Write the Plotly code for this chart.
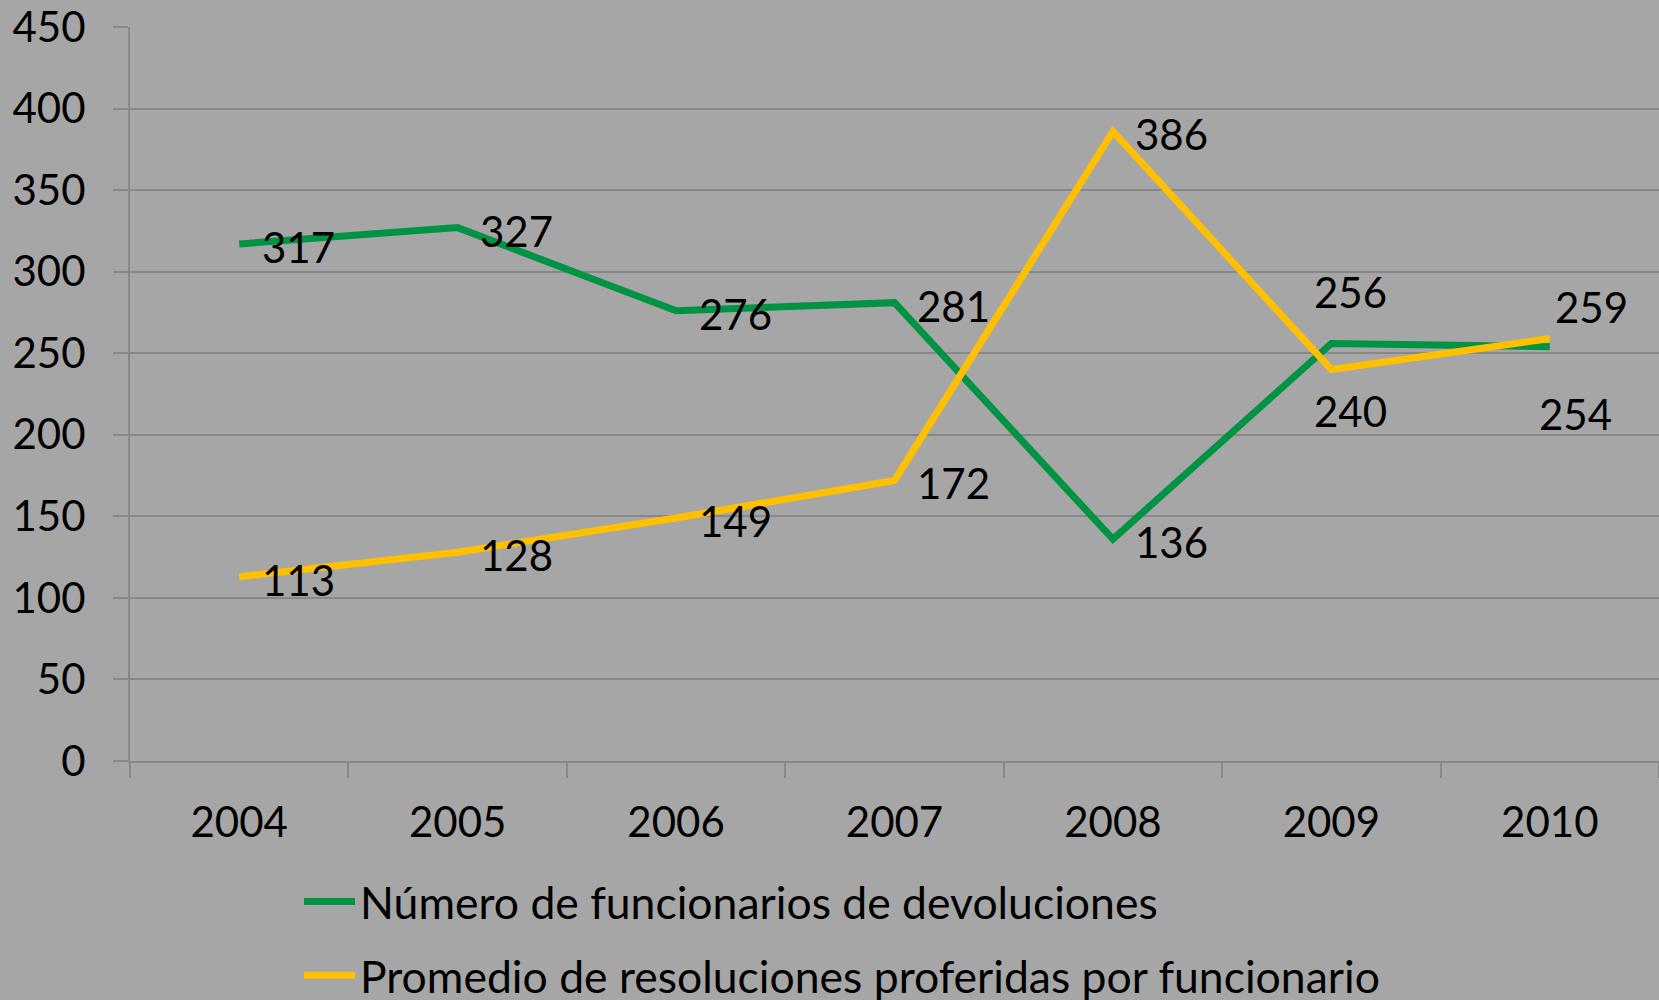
import plotly.graph_objects as go

# Annual figures
years = ["2004", "2005", "2006", "2007", "2008", "2009", "2010"]
funcionarios = [317, 327, 276, 281, 136, 256, 254]
promedio = [113, 128, 149, 172, 386, 240, 259]

series_names = [
    "Número de funcionarios de devoluciones",
    "Promedio de resoluciones proferidas por funcionario",
]
series_colors = ["#009343", "#FFC000"]

# Pixel offsets (dx right, dy down) for each data label, per series
right = (59, 3)
label_offsets = [
    [right, right, right, right, right, (19, -51), (26, 67)],
    [right, right, right, right, right, (19, 41), (42, -32)],
]

FONT = "Lato, Carlito, 'Open Sans', sans-serif"
FS = 42
GRID = "#888888"

fig = go.Figure()
annotations = []
for i, (vals, name, color) in enumerate(
    zip([funcionarios, promedio], series_names, series_colors)
):
    fig.add_trace(
        go.Scatter(
            x=years,
            y=vals,
            mode="lines",
            name=name,
            line=dict(color=color, width=7),
            legendgroup=f"g{i}",
        )
    )
    # category axes place annotations by category index
    for idx, (v, (dx, dy)) in enumerate(zip(vals, label_offsets[i])):
        annotations.append(
            dict(
                x=idx,
                y=v,
                xref="x",
                yref="y",
                text=str(v),
                showarrow=False,
                xanchor="center",
                yanchor="middle",
                xshift=dx,
                yshift=-dy,
                font=dict(family=FONT, size=FS, color="black"),
            )
        )

fig.update_layout(
    width=1659,
    height=1000,
    paper_bgcolor="#A6A6A6",
    plot_bgcolor="#A6A6A6",
    margin=dict(l=130, r=0, t=27, b=239, autoexpand=False),
    font=dict(family=FONT, size=FS, color="black"),
    showlegend=True,
    legend=dict(
        orientation="v",
        x=(299 - 130) / 1529,
        xanchor="left",
        y=-0.143,
        yanchor="top",
        bgcolor="rgba(0,0,0,0)",
        font=dict(family=FONT, size=44.5, color="black"),
        itemwidth=51,
        tracegroupgap=13,
    ),
    annotations=annotations,
)

fig.update_xaxes(
    type="category",
    range=[-0.5, 6.5],
    showgrid=False,
    showline=True,
    linecolor=GRID,
    linewidth=2,
    ticks="outside",
    ticklen=15,
    tickwidth=2,
    tickcolor=GRID,
    tickson="boundaries",
    ticklabelstandoff=24,
    tickfont=dict(family=FONT, size=FS, color="black"),
    zeroline=False,
)

fig.update_yaxes(
    range=[0, 450],
    tickvals=list(range(0, 451, 50)),
    showgrid=True,
    gridcolor=GRID,
    gridwidth=2,
    showline=True,
    linecolor=GRID,
    linewidth=2,
    ticks="outside",
    ticklen=15,
    tickwidth=2,
    tickcolor=GRID,
    ticklabelstandoff=19,
    tickfont=dict(family=FONT, size=FS, color="black"),
    zeroline=False,
)

fig.write_html("out.html")
